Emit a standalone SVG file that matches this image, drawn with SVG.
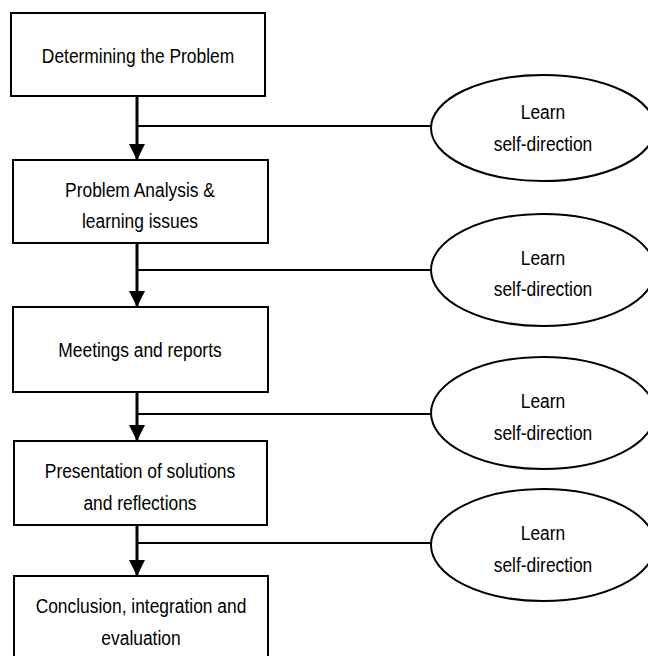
<svg xmlns="http://www.w3.org/2000/svg" width="648" height="656" viewBox="0 0 648 656">
<style>
.box{fill:#fff;stroke:#000;stroke-width:2}
.ell{fill:#fff;stroke:#000;stroke-width:2}
.t{font-family:"Liberation Sans",Arial,sans-serif;font-size:20px;fill:#000;text-anchor:middle}
.main{stroke:#000;stroke-width:3;fill:none}
.side{stroke:#000;stroke-width:2;fill:none}
</style>
<defs>
<marker id="ah" markerUnits="userSpaceOnUse" markerWidth="16" markerHeight="17" refX="16" refY="8" orient="auto">
<path d="M0,0 L16,8 L0,16 Z" fill="#000"/>
</marker>
</defs>
<rect width="648" height="656" fill="#fff"/>
<g id="connectors">
<line class="main" x1="137" y1="96" x2="137" y2="160" marker-end="url(#ah)"/>
<line class="main" x1="137" y1="243" x2="137" y2="307" marker-end="url(#ah)"/>
<line class="main" x1="137" y1="392" x2="137" y2="441" marker-end="url(#ah)"/>
<line class="main" x1="137" y1="525" x2="137" y2="576" marker-end="url(#ah)"/>
<line class="side" x1="137" y1="126" x2="432" y2="126"/>
<line class="side" x1="137" y1="270" x2="432" y2="270"/>
<line class="side" x1="137" y1="414" x2="432" y2="414"/>
<line class="side" x1="137" y1="543" x2="432" y2="543"/>
</g>
<g id="n1"><rect class="box" x="11" y="13" width="254" height="83"/><text class="t" transform="translate(138,63) scale(0.87,1)">Determining the Problem</text></g>
<g id="n2"><rect class="box" x="13" y="160" width="255" height="83"/><text class="t" transform="translate(140,197) scale(0.87,1)">Problem Analysis &amp;</text><text class="t" transform="translate(140,228) scale(0.87,1)">learning issues</text></g>
<g id="n3"><rect class="box" x="13" y="307" width="255" height="85"/><text class="t" transform="translate(140,357) scale(0.87,1)">Meetings and reports</text></g>
<g id="n4"><rect class="box" x="14" y="441" width="253" height="84"/><text class="t" transform="translate(140,478) scale(0.87,1)">Presentation of solutions</text><text class="t" transform="translate(140,510) scale(0.87,1)">and reflections</text></g>
<g id="n5"><rect class="box" x="14" y="576" width="254" height="100"/><text class="t" transform="translate(141,613) scale(0.87,1)">Conclusion, integration and</text><text class="t" transform="translate(141,645) scale(0.87,1)">evaluation</text></g>
<g id="e1"><ellipse class="ell" cx="543" cy="128" rx="112" ry="53"/><text class="t" transform="translate(543,119) scale(0.87,1)">Learn</text><text class="t" transform="translate(543,151) scale(0.87,1)">self-direction</text></g>
<g id="e2"><ellipse class="ell" cx="543" cy="270" rx="112" ry="56"/><text class="t" transform="translate(543,265) scale(0.87,1)">Learn</text><text class="t" transform="translate(543,296) scale(0.87,1)">self-direction</text></g>
<g id="e3"><ellipse class="ell" cx="543" cy="413" rx="112" ry="56"/><text class="t" transform="translate(543,408) scale(0.87,1)">Learn</text><text class="t" transform="translate(543,440) scale(0.87,1)">self-direction</text></g>
<g id="e4"><ellipse class="ell" cx="543" cy="545" rx="112" ry="56"/><text class="t" transform="translate(543,540) scale(0.87,1)">Learn</text><text class="t" transform="translate(543,572) scale(0.87,1)">self-direction</text></g>
</svg>
